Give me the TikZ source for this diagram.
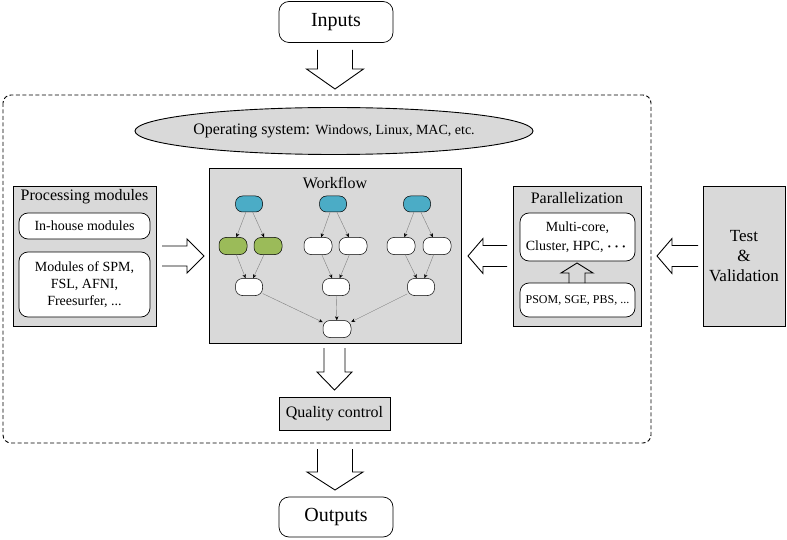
\documentclass[tikz,border=0pt]{standalone}
\usepackage{amsmath}
\usepackage{fontspec}
\setmainfont{Liberation Serif}
\usetikzlibrary{arrows.meta,shapes.geometric}
\definecolor{panelgray}{RGB}{217,217,217}
\definecolor{taskblue}{RGB}{75,172,198}
\definecolor{taskgreen}{RGB}{155,187,89}
\tikzset{
    panel/.style={draw=black, line width=0.9pt, fill=panelgray},
    pill/.style={draw=black, line width=0.7pt, fill=white, rounded corners=9pt, align=center},
    task/.style={draw=black, line width=0.5pt, fill=white, rounded corners=7pt,
        minimum width=27pt, minimum height=16pt, inner sep=0pt},
    flow/.style={draw=gray, line width=0.4pt, -{Stealth[black,length=4pt,width=3.5pt]}},
    pics/fatarrow/.style n args={4}{code={
        \draw[line width=0.9pt] (-#1,0) -- (-#1,#3) -- (-#2,#3) -- (0,#3+#4)
            -- (#2,#3) -- (#1,#3) -- (#1,0);}}
}
\begin{document}
\begin{tikzpicture}[x=1pt, y=-1pt]
    \useasboundingbox (0,0) rectangle (787,540);
    % outer frame
    \draw[line width=0.9pt, dashed, dash pattern=on 4pt off 2.5pt, rounded corners=8pt]
        (3,95) rectangle (651,443);
    % inputs and outputs
    \node[pill, rounded corners=10pt, minimum width=114pt, minimum height=41pt,
        font=\fontsize{20}{24}\selectfont] (inputs) at (336,22) {Inputs};
    \node[pill, rounded corners=10pt, minimum width=114pt, minimum height=40pt,
        font=\fontsize{20}{24}\selectfont] (outputs) at (336,517) {Outputs};
    % operating system
    \node[ellipse, draw=black, line width=0.9pt, fill=panelgray, minimum width=358pt,
        minimum height=47pt, inner sep=0pt] (os) at (334,131)
        {\fontsize{16}{19}\selectfont Operating system: \fontsize{14}{17}\selectfont Windows, Linux, MAC, etc.};
    % processing modules
    \node[panel, minimum width=143pt, minimum height=140pt] (proc) at (84.5,256) {};
    \node[font=\fontsize{16}{19}\selectfont] (proctitle) at (84.5,197) {Processing modules};
    \node[pill, minimum width=131pt, minimum height=26pt, font=\fontsize{14}{17}\selectfont]
        (inhouse) at (84.5,226) {In-house modules};
    \node[pill, minimum width=131pt, minimum height=65pt, font=\fontsize{14}{17}\selectfont]
        (thirdparty) at (84.5,284.5) {Modules of SPM,\\FSL, AFNI,\\Freesurfer, ...};
    % workflow
    \node[panel, minimum width=252pt, minimum height=175pt] (wf) at (335,255.5) {};
    \node[font=\fontsize{16}{19}\selectfont] (wftitle) at (335,183) {Workflow};
    \node[task, fill=taskblue] (b1) at (249,204) {};
    \node[task, fill=taskblue] (b2) at (333,204) {};
    \node[task, fill=taskblue] (b3) at (417,204) {};
    \node[task, fill=taskgreen, minimum width=28pt, minimum height=17pt] (g1) at (233,246) {};
    \node[task, fill=taskgreen, minimum width=28pt, minimum height=17pt] (g2) at (268,246) {};
    \node[task, minimum width=28pt, minimum height=17pt] (w1) at (318,246) {};
    \node[task, minimum width=28pt, minimum height=17pt] (w2) at (353,246) {};
    \node[task, minimum width=28pt, minimum height=17pt] (w3) at (401,246) {};
    \node[task, minimum width=28pt, minimum height=17pt] (w4) at (437,246) {};
    \node[task, minimum height=17pt] (m1) at (249,287) {};
    \node[task, minimum height=17pt] (m2) at (336,287) {};
    \node[task, minimum height=17pt] (m3) at (421,287) {};
    \node[task, minimum width=28pt, minimum height=17pt] (last) at (337,329) {};
    \draw[flow] (b1) -- (g1);
    \draw[flow] (b1) -- (g2);
    \draw[flow] (b2) -- (w1);
    \draw[flow] (b2) -- (w2);
    \draw[flow] (b3) -- (w3);
    \draw[flow] (b3) -- (w4);
    \draw[flow] (g1) -- (m1);
    \draw[flow] (g2) -- (m1);
    \draw[flow] (w1) -- (m2);
    \draw[flow] (w2) -- (m2);
    \draw[flow] (w3) -- (m3);
    \draw[flow] (w4) -- (m3);
    \draw[flow] (m1) -- (last);
    \draw[flow] (m2) -- (last);
    \draw[flow] (m3) -- (last);
    % parallelization
    \node[panel, minimum width=128pt, minimum height=140pt] (par) at (577,256) {};
    \node[font=\fontsize{16}{19}\selectfont] (partitle) at (577,198) {Parallelization};
    \node[pill, minimum width=115pt, minimum height=48pt, font=\fontsize{14}{19}\selectfont]
        (hw) at (577.5,237) {Multi-core,\\Cluster, HPC, $\boldsymbol{\cdots}$};
    \node[pill, minimum width=115pt, minimum height=34pt, font=\fontsize{12}{14}\selectfont]
        (sched) at (577.5,300) {PSOM, SGE, PBS, ...};
    % test and validation
    \node[panel, minimum width=82pt, minimum height=140pt, align=center,
        font=\fontsize{17}{20}\selectfont] (test) at (744,256) {Test\\\&\\Validation};
    % quality control
    \node[panel, minimum width=111pt, minimum height=33pt, font=\fontsize{16}{19}\selectfont]
        (qc) at (334.5,413.5) {Quality control};
    % hollow arrows
    \pic at (335,50) {fatarrow={17.5}{28.5}{19}{20}};
    \pic at (334.5,348) {fatarrow={10.5}{17.5}{24}{18}};
    \pic at (335,449) {fatarrow={17.5}{28}{23}{18}};
    \pic[rotate=90] at (162,256) {fatarrow={10}{17}{25}{17}};
    \pic[rotate=-90] at (507,256) {fatarrow={10.5}{17.5}{24}{15}};
    \pic[rotate=-90] at (698,256) {fatarrow={10.5}{17.5}{26}{15}};
    \pic[rotate=180] at (577,283) {fatarrow={8}{16}{10}{10}};
\end{tikzpicture}
\end{document}
